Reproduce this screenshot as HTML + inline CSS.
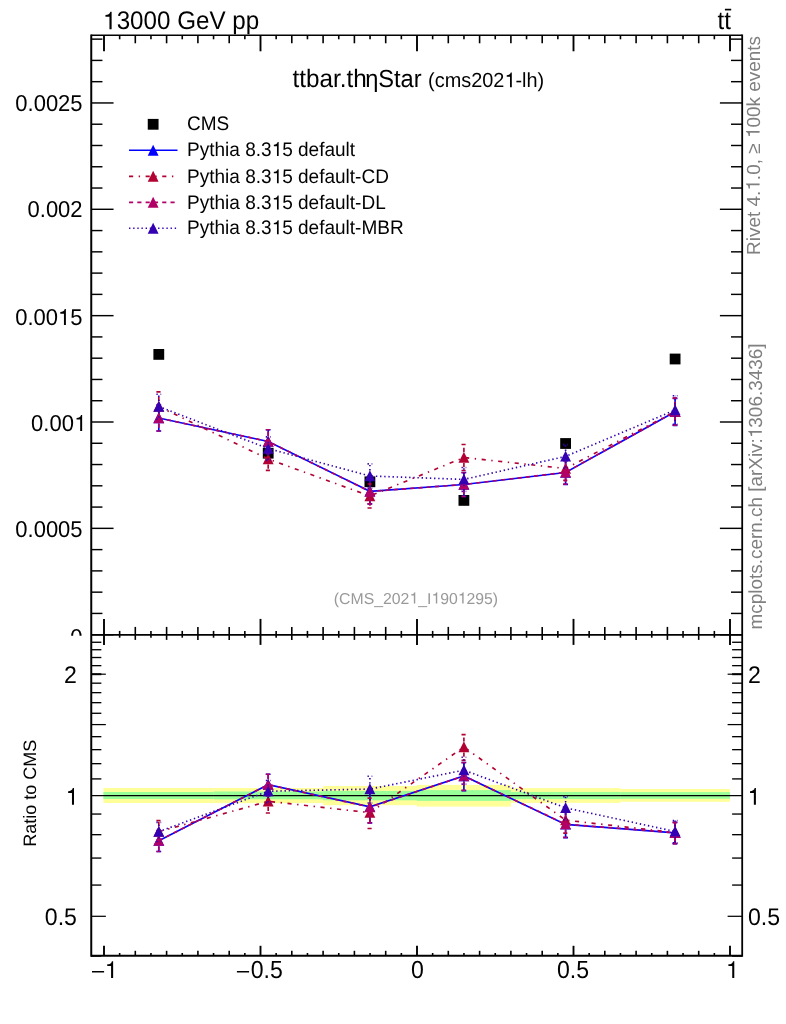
<!DOCTYPE html>
<html><head><meta charset="utf-8"><title>ttbar.thetaStar</title>
<style>html,body{margin:0;padding:0;background:#fff}svg{display:block}.h{fill:none}text{font-family:"Liberation Sans",sans-serif;fill:#000;text-rendering:geometricPrecision}</style></head><body>
<svg width="786" height="1024" viewBox="0 0 786 1024">
<rect width="786" height="1024" fill="#fff"/>
<g opacity="0.999">
<rect x="103.40" y="788.0" width="110.15" height="15.00" fill="#ffff99"/>
<rect x="213.55" y="788.0" width="109.55" height="15.10" fill="#ffff99"/>
<rect x="323.10" y="786.0" width="93.90" height="19.20" fill="#ffff99"/>
<rect x="417.00" y="784.9" width="93.90" height="21.70" fill="#ffff99"/>
<rect x="510.90" y="788.1" width="109.55" height="14.80" fill="#ffff99"/>
<rect x="620.45" y="789.0" width="109.55" height="12.80" fill="#ffff99"/>
<rect x="103.40" y="792.0" width="110.15" height="7.00" fill="#99ff99"/>
<rect x="213.55" y="791.5" width="109.55" height="7.80" fill="#99ff99"/>
<rect x="323.10" y="790.9" width="93.90" height="9.40" fill="#99ff99"/>
<rect x="417.00" y="790.1" width="93.90" height="10.80" fill="#99ff99"/>
<rect x="510.90" y="791.9" width="109.55" height="7.20" fill="#99ff99"/>
<rect x="620.45" y="792.1" width="109.55" height="6.70" fill="#99ff99"/>
<line x1="91.25" y1="795.6" x2="742.2" y2="795.6" stroke="#000" stroke-width="1.35"/>
<g stroke="#000" fill="none" stroke-linecap="butt">
<line x1="91.25" y1="34.5" x2="91.25" y2="956.8" stroke-width="2"/>
<line x1="742.2" y1="34.5" x2="742.2" y2="956.8" stroke-width="1.8"/>
<line x1="91.25" y1="35.3" x2="742.2" y2="35.3" stroke-width="1.6"/>
<line x1="91.25" y1="634.9" x2="742.2" y2="634.9" stroke-width="1.8"/>
<line x1="91.25" y1="955.8" x2="742.2" y2="955.8" stroke-width="2"/>
<line x1="104.00" y1="35.3" x2="104.00" y2="51.3" stroke-width="1.9"/>
<line x1="104.00" y1="618.9" x2="104.00" y2="644.9" stroke-width="1.9"/>
<line x1="104.00" y1="945.8" x2="104.00" y2="955.8" stroke-width="1.9"/>
<line x1="119.65" y1="35.3" x2="119.65" y2="39.3" stroke-width="1.6"/>
<line x1="119.65" y1="630.9" x2="119.65" y2="637.6999999999999" stroke-width="1.6"/>
<line x1="119.65" y1="953.0" x2="119.65" y2="955.8" stroke-width="1.6"/>
<line x1="135.30" y1="35.3" x2="135.30" y2="43.3" stroke-width="1.6"/>
<line x1="135.30" y1="626.9" x2="135.30" y2="639.9" stroke-width="1.6"/>
<line x1="135.30" y1="950.8" x2="135.30" y2="955.8" stroke-width="1.6"/>
<line x1="150.95" y1="35.3" x2="150.95" y2="39.3" stroke-width="1.6"/>
<line x1="150.95" y1="630.9" x2="150.95" y2="637.6999999999999" stroke-width="1.6"/>
<line x1="150.95" y1="953.0" x2="150.95" y2="955.8" stroke-width="1.6"/>
<line x1="166.60" y1="35.3" x2="166.60" y2="43.3" stroke-width="1.6"/>
<line x1="166.60" y1="626.9" x2="166.60" y2="639.9" stroke-width="1.6"/>
<line x1="166.60" y1="950.8" x2="166.60" y2="955.8" stroke-width="1.6"/>
<line x1="182.25" y1="35.3" x2="182.25" y2="39.3" stroke-width="1.6"/>
<line x1="182.25" y1="630.9" x2="182.25" y2="637.6999999999999" stroke-width="1.6"/>
<line x1="182.25" y1="953.0" x2="182.25" y2="955.8" stroke-width="1.6"/>
<line x1="197.90" y1="35.3" x2="197.90" y2="43.3" stroke-width="1.6"/>
<line x1="197.90" y1="626.9" x2="197.90" y2="639.9" stroke-width="1.6"/>
<line x1="197.90" y1="950.8" x2="197.90" y2="955.8" stroke-width="1.6"/>
<line x1="213.55" y1="35.3" x2="213.55" y2="39.3" stroke-width="1.6"/>
<line x1="213.55" y1="630.9" x2="213.55" y2="637.6999999999999" stroke-width="1.6"/>
<line x1="213.55" y1="953.0" x2="213.55" y2="955.8" stroke-width="1.6"/>
<line x1="229.20" y1="35.3" x2="229.20" y2="43.3" stroke-width="1.6"/>
<line x1="229.20" y1="626.9" x2="229.20" y2="639.9" stroke-width="1.6"/>
<line x1="229.20" y1="950.8" x2="229.20" y2="955.8" stroke-width="1.6"/>
<line x1="244.85" y1="35.3" x2="244.85" y2="39.3" stroke-width="1.6"/>
<line x1="244.85" y1="630.9" x2="244.85" y2="637.6999999999999" stroke-width="1.6"/>
<line x1="244.85" y1="953.0" x2="244.85" y2="955.8" stroke-width="1.6"/>
<line x1="260.50" y1="35.3" x2="260.50" y2="51.3" stroke-width="1.9"/>
<line x1="260.50" y1="618.9" x2="260.50" y2="644.9" stroke-width="1.9"/>
<line x1="260.50" y1="945.8" x2="260.50" y2="955.8" stroke-width="1.9"/>
<line x1="276.15" y1="35.3" x2="276.15" y2="39.3" stroke-width="1.6"/>
<line x1="276.15" y1="630.9" x2="276.15" y2="637.6999999999999" stroke-width="1.6"/>
<line x1="276.15" y1="953.0" x2="276.15" y2="955.8" stroke-width="1.6"/>
<line x1="291.80" y1="35.3" x2="291.80" y2="43.3" stroke-width="1.6"/>
<line x1="291.80" y1="626.9" x2="291.80" y2="639.9" stroke-width="1.6"/>
<line x1="291.80" y1="950.8" x2="291.80" y2="955.8" stroke-width="1.6"/>
<line x1="307.45" y1="35.3" x2="307.45" y2="39.3" stroke-width="1.6"/>
<line x1="307.45" y1="630.9" x2="307.45" y2="637.6999999999999" stroke-width="1.6"/>
<line x1="307.45" y1="953.0" x2="307.45" y2="955.8" stroke-width="1.6"/>
<line x1="323.10" y1="35.3" x2="323.10" y2="43.3" stroke-width="1.6"/>
<line x1="323.10" y1="626.9" x2="323.10" y2="639.9" stroke-width="1.6"/>
<line x1="323.10" y1="950.8" x2="323.10" y2="955.8" stroke-width="1.6"/>
<line x1="338.75" y1="35.3" x2="338.75" y2="39.3" stroke-width="1.6"/>
<line x1="338.75" y1="630.9" x2="338.75" y2="637.6999999999999" stroke-width="1.6"/>
<line x1="338.75" y1="953.0" x2="338.75" y2="955.8" stroke-width="1.6"/>
<line x1="354.40" y1="35.3" x2="354.40" y2="43.3" stroke-width="1.6"/>
<line x1="354.40" y1="626.9" x2="354.40" y2="639.9" stroke-width="1.6"/>
<line x1="354.40" y1="950.8" x2="354.40" y2="955.8" stroke-width="1.6"/>
<line x1="370.05" y1="35.3" x2="370.05" y2="39.3" stroke-width="1.6"/>
<line x1="370.05" y1="630.9" x2="370.05" y2="637.6999999999999" stroke-width="1.6"/>
<line x1="370.05" y1="953.0" x2="370.05" y2="955.8" stroke-width="1.6"/>
<line x1="385.70" y1="35.3" x2="385.70" y2="43.3" stroke-width="1.6"/>
<line x1="385.70" y1="626.9" x2="385.70" y2="639.9" stroke-width="1.6"/>
<line x1="385.70" y1="950.8" x2="385.70" y2="955.8" stroke-width="1.6"/>
<line x1="401.35" y1="35.3" x2="401.35" y2="39.3" stroke-width="1.6"/>
<line x1="401.35" y1="630.9" x2="401.35" y2="637.6999999999999" stroke-width="1.6"/>
<line x1="401.35" y1="953.0" x2="401.35" y2="955.8" stroke-width="1.6"/>
<line x1="417.00" y1="35.3" x2="417.00" y2="51.3" stroke-width="1.9"/>
<line x1="417.00" y1="618.9" x2="417.00" y2="644.9" stroke-width="1.9"/>
<line x1="417.00" y1="945.8" x2="417.00" y2="955.8" stroke-width="1.9"/>
<line x1="432.65" y1="35.3" x2="432.65" y2="39.3" stroke-width="1.6"/>
<line x1="432.65" y1="630.9" x2="432.65" y2="637.6999999999999" stroke-width="1.6"/>
<line x1="432.65" y1="953.0" x2="432.65" y2="955.8" stroke-width="1.6"/>
<line x1="448.30" y1="35.3" x2="448.30" y2="43.3" stroke-width="1.6"/>
<line x1="448.30" y1="626.9" x2="448.30" y2="639.9" stroke-width="1.6"/>
<line x1="448.30" y1="950.8" x2="448.30" y2="955.8" stroke-width="1.6"/>
<line x1="463.95" y1="35.3" x2="463.95" y2="39.3" stroke-width="1.6"/>
<line x1="463.95" y1="630.9" x2="463.95" y2="637.6999999999999" stroke-width="1.6"/>
<line x1="463.95" y1="953.0" x2="463.95" y2="955.8" stroke-width="1.6"/>
<line x1="479.60" y1="35.3" x2="479.60" y2="43.3" stroke-width="1.6"/>
<line x1="479.60" y1="626.9" x2="479.60" y2="639.9" stroke-width="1.6"/>
<line x1="479.60" y1="950.8" x2="479.60" y2="955.8" stroke-width="1.6"/>
<line x1="495.25" y1="35.3" x2="495.25" y2="39.3" stroke-width="1.6"/>
<line x1="495.25" y1="630.9" x2="495.25" y2="637.6999999999999" stroke-width="1.6"/>
<line x1="495.25" y1="953.0" x2="495.25" y2="955.8" stroke-width="1.6"/>
<line x1="510.90" y1="35.3" x2="510.90" y2="43.3" stroke-width="1.6"/>
<line x1="510.90" y1="626.9" x2="510.90" y2="639.9" stroke-width="1.6"/>
<line x1="510.90" y1="950.8" x2="510.90" y2="955.8" stroke-width="1.6"/>
<line x1="526.55" y1="35.3" x2="526.55" y2="39.3" stroke-width="1.6"/>
<line x1="526.55" y1="630.9" x2="526.55" y2="637.6999999999999" stroke-width="1.6"/>
<line x1="526.55" y1="953.0" x2="526.55" y2="955.8" stroke-width="1.6"/>
<line x1="542.20" y1="35.3" x2="542.20" y2="43.3" stroke-width="1.6"/>
<line x1="542.20" y1="626.9" x2="542.20" y2="639.9" stroke-width="1.6"/>
<line x1="542.20" y1="950.8" x2="542.20" y2="955.8" stroke-width="1.6"/>
<line x1="557.85" y1="35.3" x2="557.85" y2="39.3" stroke-width="1.6"/>
<line x1="557.85" y1="630.9" x2="557.85" y2="637.6999999999999" stroke-width="1.6"/>
<line x1="557.85" y1="953.0" x2="557.85" y2="955.8" stroke-width="1.6"/>
<line x1="573.50" y1="35.3" x2="573.50" y2="51.3" stroke-width="1.9"/>
<line x1="573.50" y1="618.9" x2="573.50" y2="644.9" stroke-width="1.9"/>
<line x1="573.50" y1="945.8" x2="573.50" y2="955.8" stroke-width="1.9"/>
<line x1="589.15" y1="35.3" x2="589.15" y2="39.3" stroke-width="1.6"/>
<line x1="589.15" y1="630.9" x2="589.15" y2="637.6999999999999" stroke-width="1.6"/>
<line x1="589.15" y1="953.0" x2="589.15" y2="955.8" stroke-width="1.6"/>
<line x1="604.80" y1="35.3" x2="604.80" y2="43.3" stroke-width="1.6"/>
<line x1="604.80" y1="626.9" x2="604.80" y2="639.9" stroke-width="1.6"/>
<line x1="604.80" y1="950.8" x2="604.80" y2="955.8" stroke-width="1.6"/>
<line x1="620.45" y1="35.3" x2="620.45" y2="39.3" stroke-width="1.6"/>
<line x1="620.45" y1="630.9" x2="620.45" y2="637.6999999999999" stroke-width="1.6"/>
<line x1="620.45" y1="953.0" x2="620.45" y2="955.8" stroke-width="1.6"/>
<line x1="636.10" y1="35.3" x2="636.10" y2="43.3" stroke-width="1.6"/>
<line x1="636.10" y1="626.9" x2="636.10" y2="639.9" stroke-width="1.6"/>
<line x1="636.10" y1="950.8" x2="636.10" y2="955.8" stroke-width="1.6"/>
<line x1="651.75" y1="35.3" x2="651.75" y2="39.3" stroke-width="1.6"/>
<line x1="651.75" y1="630.9" x2="651.75" y2="637.6999999999999" stroke-width="1.6"/>
<line x1="651.75" y1="953.0" x2="651.75" y2="955.8" stroke-width="1.6"/>
<line x1="667.40" y1="35.3" x2="667.40" y2="43.3" stroke-width="1.6"/>
<line x1="667.40" y1="626.9" x2="667.40" y2="639.9" stroke-width="1.6"/>
<line x1="667.40" y1="950.8" x2="667.40" y2="955.8" stroke-width="1.6"/>
<line x1="683.05" y1="35.3" x2="683.05" y2="39.3" stroke-width="1.6"/>
<line x1="683.05" y1="630.9" x2="683.05" y2="637.6999999999999" stroke-width="1.6"/>
<line x1="683.05" y1="953.0" x2="683.05" y2="955.8" stroke-width="1.6"/>
<line x1="698.70" y1="35.3" x2="698.70" y2="43.3" stroke-width="1.6"/>
<line x1="698.70" y1="626.9" x2="698.70" y2="639.9" stroke-width="1.6"/>
<line x1="698.70" y1="950.8" x2="698.70" y2="955.8" stroke-width="1.6"/>
<line x1="714.35" y1="35.3" x2="714.35" y2="39.3" stroke-width="1.6"/>
<line x1="714.35" y1="630.9" x2="714.35" y2="637.6999999999999" stroke-width="1.6"/>
<line x1="714.35" y1="953.0" x2="714.35" y2="955.8" stroke-width="1.6"/>
<line x1="730.00" y1="35.3" x2="730.00" y2="51.3" stroke-width="1.9"/>
<line x1="730.00" y1="618.9" x2="730.00" y2="644.9" stroke-width="1.9"/>
<line x1="730.00" y1="945.8" x2="730.00" y2="955.8" stroke-width="1.9"/>
<line x1="91.25" y1="634.70" x2="113.55" y2="634.70" stroke-width="1.45"/>
<line x1="742.2" y1="634.70" x2="719.9000000000001" y2="634.70" stroke-width="1.45"/>
<line x1="91.25" y1="613.43" x2="102.45" y2="613.43" stroke-width="1.45"/>
<line x1="742.2" y1="613.43" x2="731.0" y2="613.43" stroke-width="1.45"/>
<line x1="91.25" y1="592.16" x2="102.45" y2="592.16" stroke-width="1.45"/>
<line x1="742.2" y1="592.16" x2="731.0" y2="592.16" stroke-width="1.45"/>
<line x1="91.25" y1="570.89" x2="102.45" y2="570.89" stroke-width="1.45"/>
<line x1="742.2" y1="570.89" x2="731.0" y2="570.89" stroke-width="1.45"/>
<line x1="91.25" y1="549.62" x2="102.45" y2="549.62" stroke-width="1.45"/>
<line x1="742.2" y1="549.62" x2="731.0" y2="549.62" stroke-width="1.45"/>
<line x1="91.25" y1="528.35" x2="113.55" y2="528.35" stroke-width="1.45"/>
<line x1="742.2" y1="528.35" x2="719.9000000000001" y2="528.35" stroke-width="1.45"/>
<line x1="91.25" y1="507.08" x2="102.45" y2="507.08" stroke-width="1.45"/>
<line x1="742.2" y1="507.08" x2="731.0" y2="507.08" stroke-width="1.45"/>
<line x1="91.25" y1="485.81" x2="102.45" y2="485.81" stroke-width="1.45"/>
<line x1="742.2" y1="485.81" x2="731.0" y2="485.81" stroke-width="1.45"/>
<line x1="91.25" y1="464.54" x2="102.45" y2="464.54" stroke-width="1.45"/>
<line x1="742.2" y1="464.54" x2="731.0" y2="464.54" stroke-width="1.45"/>
<line x1="91.25" y1="443.27" x2="102.45" y2="443.27" stroke-width="1.45"/>
<line x1="742.2" y1="443.27" x2="731.0" y2="443.27" stroke-width="1.45"/>
<line x1="91.25" y1="422.00" x2="113.55" y2="422.00" stroke-width="1.45"/>
<line x1="742.2" y1="422.00" x2="719.9000000000001" y2="422.00" stroke-width="1.45"/>
<line x1="91.25" y1="400.73" x2="102.45" y2="400.73" stroke-width="1.45"/>
<line x1="742.2" y1="400.73" x2="731.0" y2="400.73" stroke-width="1.45"/>
<line x1="91.25" y1="379.46" x2="102.45" y2="379.46" stroke-width="1.45"/>
<line x1="742.2" y1="379.46" x2="731.0" y2="379.46" stroke-width="1.45"/>
<line x1="91.25" y1="358.19" x2="102.45" y2="358.19" stroke-width="1.45"/>
<line x1="742.2" y1="358.19" x2="731.0" y2="358.19" stroke-width="1.45"/>
<line x1="91.25" y1="336.92" x2="102.45" y2="336.92" stroke-width="1.45"/>
<line x1="742.2" y1="336.92" x2="731.0" y2="336.92" stroke-width="1.45"/>
<line x1="91.25" y1="315.65" x2="113.55" y2="315.65" stroke-width="1.45"/>
<line x1="742.2" y1="315.65" x2="719.9000000000001" y2="315.65" stroke-width="1.45"/>
<line x1="91.25" y1="294.38" x2="102.45" y2="294.38" stroke-width="1.45"/>
<line x1="742.2" y1="294.38" x2="731.0" y2="294.38" stroke-width="1.45"/>
<line x1="91.25" y1="273.11" x2="102.45" y2="273.11" stroke-width="1.45"/>
<line x1="742.2" y1="273.11" x2="731.0" y2="273.11" stroke-width="1.45"/>
<line x1="91.25" y1="251.84" x2="102.45" y2="251.84" stroke-width="1.45"/>
<line x1="742.2" y1="251.84" x2="731.0" y2="251.84" stroke-width="1.45"/>
<line x1="91.25" y1="230.57" x2="102.45" y2="230.57" stroke-width="1.45"/>
<line x1="742.2" y1="230.57" x2="731.0" y2="230.57" stroke-width="1.45"/>
<line x1="91.25" y1="209.30" x2="113.55" y2="209.30" stroke-width="1.45"/>
<line x1="742.2" y1="209.30" x2="719.9000000000001" y2="209.30" stroke-width="1.45"/>
<line x1="91.25" y1="188.03" x2="102.45" y2="188.03" stroke-width="1.45"/>
<line x1="742.2" y1="188.03" x2="731.0" y2="188.03" stroke-width="1.45"/>
<line x1="91.25" y1="166.76" x2="102.45" y2="166.76" stroke-width="1.45"/>
<line x1="742.2" y1="166.76" x2="731.0" y2="166.76" stroke-width="1.45"/>
<line x1="91.25" y1="145.49" x2="102.45" y2="145.49" stroke-width="1.45"/>
<line x1="742.2" y1="145.49" x2="731.0" y2="145.49" stroke-width="1.45"/>
<line x1="91.25" y1="124.22" x2="102.45" y2="124.22" stroke-width="1.45"/>
<line x1="742.2" y1="124.22" x2="731.0" y2="124.22" stroke-width="1.45"/>
<line x1="91.25" y1="102.95" x2="113.55" y2="102.95" stroke-width="1.45"/>
<line x1="742.2" y1="102.95" x2="719.9000000000001" y2="102.95" stroke-width="1.45"/>
<line x1="91.25" y1="81.68" x2="102.45" y2="81.68" stroke-width="1.45"/>
<line x1="742.2" y1="81.68" x2="731.0" y2="81.68" stroke-width="1.45"/>
<line x1="91.25" y1="60.41" x2="102.45" y2="60.41" stroke-width="1.45"/>
<line x1="742.2" y1="60.41" x2="731.0" y2="60.41" stroke-width="1.45"/>
<line x1="91.25" y1="39.14" x2="102.45" y2="39.14" stroke-width="1.45"/>
<line x1="742.2" y1="39.14" x2="731.0" y2="39.14" stroke-width="1.45"/>
<line x1="91.25" y1="956.08" x2="101.35" y2="956.08" stroke-width="1.35"/>
<line x1="742.2" y1="956.08" x2="732.1" y2="956.08" stroke-width="1.35"/>
<line x1="91.25" y1="916.30" x2="105.85" y2="916.30" stroke-width="1.25"/>
<line x1="742.2" y1="916.30" x2="727.6" y2="916.30" stroke-width="1.25"/>
<line x1="91.25" y1="885.07" x2="101.35" y2="885.07" stroke-width="1.35"/>
<line x1="742.2" y1="885.07" x2="732.1" y2="885.07" stroke-width="1.35"/>
<line x1="91.25" y1="858.07" x2="101.35" y2="858.07" stroke-width="1.35"/>
<line x1="742.2" y1="858.07" x2="732.1" y2="858.07" stroke-width="1.35"/>
<line x1="91.25" y1="834.68" x2="101.35" y2="834.68" stroke-width="1.35"/>
<line x1="742.2" y1="834.68" x2="732.1" y2="834.68" stroke-width="1.35"/>
<line x1="91.25" y1="814.05" x2="101.35" y2="814.05" stroke-width="1.35"/>
<line x1="742.2" y1="814.05" x2="732.1" y2="814.05" stroke-width="1.35"/>
<line x1="91.25" y1="778.91" x2="101.35" y2="778.91" stroke-width="1.35"/>
<line x1="742.2" y1="778.91" x2="732.1" y2="778.91" stroke-width="1.35"/>
<line x1="91.25" y1="763.67" x2="101.35" y2="763.67" stroke-width="1.35"/>
<line x1="742.2" y1="763.67" x2="732.1" y2="763.67" stroke-width="1.35"/>
<line x1="91.25" y1="749.65" x2="101.35" y2="749.65" stroke-width="1.35"/>
<line x1="742.2" y1="749.65" x2="732.1" y2="749.65" stroke-width="1.35"/>
<line x1="91.25" y1="736.67" x2="101.35" y2="736.67" stroke-width="1.35"/>
<line x1="742.2" y1="736.67" x2="732.1" y2="736.67" stroke-width="1.35"/>
<line x1="91.25" y1="724.59" x2="105.85" y2="724.59" stroke-width="1.25"/>
<line x1="742.2" y1="724.59" x2="727.6" y2="724.59" stroke-width="1.25"/>
<line x1="91.25" y1="713.28" x2="101.35" y2="713.28" stroke-width="1.35"/>
<line x1="742.2" y1="713.28" x2="732.1" y2="713.28" stroke-width="1.35"/>
<line x1="91.25" y1="702.66" x2="101.35" y2="702.66" stroke-width="1.35"/>
<line x1="742.2" y1="702.66" x2="732.1" y2="702.66" stroke-width="1.35"/>
<line x1="91.25" y1="692.65" x2="101.35" y2="692.65" stroke-width="1.35"/>
<line x1="742.2" y1="692.65" x2="732.1" y2="692.65" stroke-width="1.35"/>
<line x1="91.25" y1="683.18" x2="101.35" y2="683.18" stroke-width="1.35"/>
<line x1="742.2" y1="683.18" x2="732.1" y2="683.18" stroke-width="1.35"/>
<line x1="91.25" y1="674.20" x2="101.35" y2="674.20" stroke-width="2"/>
<line x1="91.25" y1="674.20" x2="105.85" y2="674.20" stroke-width="1.2"/>
<line x1="742.2" y1="674.20" x2="732.1" y2="674.20" stroke-width="2"/>
<line x1="742.2" y1="674.20" x2="727.6" y2="674.20" stroke-width="1.2"/>
<line x1="91.25" y1="665.65" x2="101.35" y2="665.65" stroke-width="1.35"/>
<line x1="742.2" y1="665.65" x2="732.1" y2="665.65" stroke-width="1.35"/>
<line x1="91.25" y1="657.51" x2="101.35" y2="657.51" stroke-width="1.35"/>
<line x1="742.2" y1="657.51" x2="732.1" y2="657.51" stroke-width="1.35"/>
<line x1="91.25" y1="649.72" x2="101.35" y2="649.72" stroke-width="1.35"/>
<line x1="742.2" y1="649.72" x2="732.1" y2="649.72" stroke-width="1.35"/>
<line x1="91.25" y1="642.27" x2="101.35" y2="642.27" stroke-width="1.35"/>
<line x1="742.2" y1="642.27" x2="732.1" y2="642.27" stroke-width="1.35"/>
</g>
<rect x="153.40" y="349.00" width="10.8" height="10.8" fill="#000"/>
<rect x="262.80" y="447.80" width="10.8" height="10.8" fill="#000"/>
<rect x="364.50" y="476.40" width="10.8" height="10.8" fill="#000"/>
<rect x="458.50" y="495.00" width="10.8" height="10.8" fill="#000"/>
<rect x="560.20" y="438.10" width="10.8" height="10.8" fill="#000"/>
<rect x="669.70" y="353.60" width="10.8" height="10.8" fill="#000"/>
<g stroke="#0000ff" stroke-width="1.65" fill="none">
<path d="M158.80 418.00 L268.20 441.50 L369.90 491.30 L463.90 484.50 L565.60 472.50 L675.10 411.80"/>
<path d="M158.80 412.50V405.00M158.80 423.50V431.00M156.40 405.00H161.20M156.40 431.00H161.20"/>
<path d="M268.20 436.00V429.70M268.20 447.00V453.30M265.80 429.70H270.60M265.80 453.30H270.60"/>
<path d="M369.90 485.80V478.70M369.90 496.80V503.90M367.50 478.70H372.30M367.50 503.90H372.30"/>
<path d="M463.90 479.00V472.50M463.90 490.00V496.50M461.50 472.50H466.30M461.50 496.50H466.30"/>
<path d="M565.60 467.00V460.70M565.60 478.00V484.30M563.20 460.70H568.00M563.20 484.30H568.00"/>
<path d="M675.10 406.30V398.30M675.10 417.30V425.30M672.70 398.30H677.50M672.70 425.30H677.50"/>
</g>
<path d="M153.35 423.15L164.25 423.15L158.80 412.25Z" fill="#0000ff"/>
<path d="M262.75 446.65L273.65 446.65L268.20 435.75Z" fill="#0000ff"/>
<path d="M364.45 496.45L375.35 496.45L369.90 485.55Z" fill="#0000ff"/>
<path d="M458.45 489.65L469.35 489.65L463.90 478.75Z" fill="#0000ff"/>
<path d="M560.15 477.65L571.05 477.65L565.60 466.75Z" fill="#0000ff"/>
<path d="M669.65 416.95L680.55 416.95L675.10 406.05Z" fill="#0000ff"/>
<g stroke="#b20033" stroke-width="1.65" fill="none" stroke-dasharray="4.15 5.54 1.385 5.54">
<path d="M158.80 406.60 L268.20 459.00 L369.90 496.00 L463.90 457.50 L565.60 468.50 L675.10 411.50"/>
<path d="M158.80 401.10V391.80M158.80 412.10V421.40M156.40 391.80H161.20M156.40 421.40H161.20"/>
<path d="M268.20 453.50V447.60M268.20 464.50V470.40M265.80 447.60H270.60M265.80 470.40H270.60"/>
<path d="M369.90 490.50V484.00M369.90 501.50V508.00M367.50 484.00H372.30M367.50 508.00H372.30"/>
<path d="M463.90 452.00V444.50M463.90 463.00V470.50M461.50 444.50H466.30M461.50 470.50H466.30"/>
<path d="M565.60 463.00V456.60M565.60 474.00V480.40M563.20 456.60H568.00M563.20 480.40H568.00"/>
<path d="M675.10 406.00V398.00M675.10 417.00V425.00M672.70 398.00H677.50M672.70 425.00H677.50"/>
</g>
<path d="M153.35 411.75L164.25 411.75L158.80 400.85Z" fill="#b20033"/>
<path d="M262.75 464.15L273.65 464.15L268.20 453.25Z" fill="#b20033"/>
<path d="M364.45 501.15L375.35 501.15L369.90 490.25Z" fill="#b20033"/>
<path d="M458.45 462.65L469.35 462.65L463.90 451.75Z" fill="#b20033"/>
<path d="M560.15 473.65L571.05 473.65L565.60 462.75Z" fill="#b20033"/>
<path d="M669.65 416.65L680.55 416.65L675.10 405.75Z" fill="#b20033"/>
<g stroke="#b20066" stroke-width="1.65" fill="none" stroke-dasharray="4.15 4.15">
<path d="M158.80 418.00 L268.20 441.50 L369.90 491.50 L463.90 484.50 L565.60 472.30 L675.10 411.70"/>
<path d="M158.80 412.50V405.00M158.80 423.50V431.00M156.40 405.00H161.20M156.40 431.00H161.20"/>
<path d="M268.20 436.00V429.70M268.20 447.00V453.30M265.80 429.70H270.60M265.80 453.30H270.60"/>
<path d="M369.90 486.00V479.10M369.90 497.00V503.90M367.50 479.10H372.30M367.50 503.90H372.30"/>
<path d="M463.90 479.00V472.70M463.90 490.00V496.30M461.50 472.70H466.30M461.50 496.30H466.30"/>
<path d="M565.60 466.80V460.50M565.60 477.80V484.10M563.20 460.50H568.00M563.20 484.10H568.00"/>
<path d="M675.10 406.20V398.20M675.10 417.20V425.20M672.70 398.20H677.50M672.70 425.20H677.50"/>
</g>
<path d="M153.35 423.15L164.25 423.15L158.80 412.25Z" fill="#b20066"/>
<path d="M262.75 446.65L273.65 446.65L268.20 435.75Z" fill="#b20066"/>
<path d="M364.45 496.65L375.35 496.65L369.90 485.75Z" fill="#b20066"/>
<path d="M458.45 489.65L469.35 489.65L463.90 478.75Z" fill="#b20066"/>
<path d="M560.15 477.45L571.05 477.45L565.60 466.55Z" fill="#b20066"/>
<path d="M669.65 416.85L680.55 416.85L675.10 405.95Z" fill="#b20066"/>
<g stroke="#3300b2" stroke-width="1.65" fill="none" stroke-dasharray="1.385 2.77">
<path d="M158.80 406.60 L268.20 448.60 L369.90 476.00 L463.90 479.40 L565.60 456.40 L675.10 410.00"/>
<path d="M158.80 401.10V394.20M158.80 412.10V419.00M156.40 394.20H161.20M156.40 419.00H161.20"/>
<path d="M268.20 443.10V436.80M268.20 454.10V460.40M265.80 436.80H270.60M265.80 460.40H270.60"/>
<path d="M369.90 470.50V463.90M369.90 481.50V488.10M367.50 463.90H372.30M367.50 488.10H372.30"/>
<path d="M463.90 473.90V467.50M463.90 484.90V491.30M461.50 467.50H466.30M461.50 491.30H466.30"/>
<path d="M565.60 450.90V444.60M565.60 461.90V468.20M563.20 444.60H568.00M563.20 468.20H568.00"/>
<path d="M675.10 404.50V395.70M675.10 415.50V424.30M672.70 395.70H677.50M672.70 424.30H677.50"/>
</g>
<path d="M153.35 411.75L164.25 411.75L158.80 400.85Z" fill="#3300b2"/>
<path d="M262.75 453.75L273.65 453.75L268.20 442.85Z" fill="#3300b2"/>
<path d="M364.45 481.15L375.35 481.15L369.90 470.25Z" fill="#3300b2"/>
<path d="M458.45 484.55L469.35 484.55L463.90 473.65Z" fill="#3300b2"/>
<path d="M560.15 461.55L571.05 461.55L565.60 450.65Z" fill="#3300b2"/>
<path d="M669.65 415.15L680.55 415.15L675.10 404.25Z" fill="#3300b2"/>
<g stroke="#0000ff" stroke-width="1.65" fill="none">
<path d="M158.80 840.67 L268.20 784.66 L369.90 806.83 L463.90 776.00 L565.60 824.41 L675.10 832.83"/>
<path d="M158.80 835.17V830.47M158.80 846.17V851.51M156.40 830.47H161.20M156.40 851.51H161.20"/>
<path d="M268.20 779.16V774.28M268.20 790.16V795.70M265.80 774.28H270.60M265.80 795.70H270.60"/>
<path d="M369.90 801.33V792.08M369.90 812.33V822.94M367.50 792.08H372.30M367.50 822.94H372.30"/>
<path d="M463.90 770.50V762.54M463.90 781.50V790.59M461.50 762.54H466.30M461.50 790.59H466.30"/>
<path d="M565.60 818.91V812.11M565.60 829.91V837.64M563.20 812.11H568.00M563.20 837.64H568.00"/>
<path d="M675.10 827.33V822.53M675.10 838.33V843.78M672.70 822.53H677.50M672.70 843.78H677.50"/>
</g>
<path d="M153.35 845.82L164.25 845.82L158.80 834.92Z" fill="#0000ff"/>
<path d="M262.75 789.81L273.65 789.81L268.20 778.91Z" fill="#0000ff"/>
<path d="M364.45 811.98L375.35 811.98L369.90 801.08Z" fill="#0000ff"/>
<path d="M458.45 781.15L469.35 781.15L463.90 770.25Z" fill="#0000ff"/>
<path d="M560.15 829.56L571.05 829.56L565.60 818.66Z" fill="#0000ff"/>
<path d="M669.65 837.98L680.55 837.98L675.10 827.08Z" fill="#0000ff"/>
<g stroke="#b20033" stroke-width="1.65" fill="none" stroke-dasharray="4.15 5.54 1.385 5.54">
<path d="M158.80 831.69 L268.20 801.29 L369.90 812.67 L463.90 747.05 L565.60 820.14 L675.10 832.60"/>
<path d="M158.80 826.19V820.68M158.80 837.19V843.44M156.40 820.68H161.20M156.40 843.44H161.20"/>
<path d="M268.20 795.79V790.28M268.20 806.79V813.04M265.80 790.28H270.60M265.80 813.04H270.60"/>
<path d="M369.90 807.17V798.14M369.90 818.17V828.52M367.50 798.14H372.30M367.50 828.52H372.30"/>
<path d="M463.90 741.55V734.65M463.90 752.55V760.39M461.50 734.65H466.30M461.50 760.39H466.30"/>
<path d="M565.60 814.64V808.03M565.60 825.64V833.15M563.20 808.03H568.00M563.20 833.15H568.00"/>
<path d="M675.10 827.10V822.31M675.10 838.10V843.53M672.70 822.31H677.50M672.70 843.53H677.50"/>
</g>
<path d="M153.35 836.84L164.25 836.84L158.80 825.94Z" fill="#b20033"/>
<path d="M262.75 806.44L273.65 806.44L268.20 795.54Z" fill="#b20033"/>
<path d="M364.45 817.82L375.35 817.82L369.90 806.92Z" fill="#b20033"/>
<path d="M458.45 752.20L469.35 752.20L463.90 741.30Z" fill="#b20033"/>
<path d="M560.15 825.29L571.05 825.29L565.60 814.39Z" fill="#b20033"/>
<path d="M669.65 837.75L680.55 837.75L675.10 826.85Z" fill="#b20033"/>
<g stroke="#b20066" stroke-width="1.65" fill="none" stroke-dasharray="4.15 4.15">
<path d="M158.80 840.67 L268.20 784.66 L369.90 807.08 L463.90 776.00 L565.60 824.19 L675.10 832.76"/>
<path d="M158.80 835.17V830.47M158.80 846.17V851.51M156.40 830.47H161.20M156.40 851.51H161.20"/>
<path d="M268.20 779.16V774.28M268.20 790.16V795.70M265.80 774.28H270.60M265.80 795.70H270.60"/>
<path d="M369.90 801.58V792.53M369.90 812.58V822.94M367.50 792.53H372.30M367.50 822.94H372.30"/>
<path d="M463.90 770.50V762.76M463.90 781.50V790.33M461.50 762.76H466.30M461.50 790.33H466.30"/>
<path d="M565.60 818.69V811.91M565.60 829.69V837.41M563.20 811.91H568.00M563.20 837.41H568.00"/>
<path d="M675.10 827.26V822.46M675.10 838.26V843.69M672.70 822.46H677.50M672.70 843.69H677.50"/>
</g>
<path d="M153.35 845.82L164.25 845.82L158.80 834.92Z" fill="#b20066"/>
<path d="M262.75 789.81L273.65 789.81L268.20 778.91Z" fill="#b20066"/>
<path d="M364.45 812.23L375.35 812.23L369.90 801.33Z" fill="#b20066"/>
<path d="M458.45 781.15L469.35 781.15L463.90 770.25Z" fill="#b20066"/>
<path d="M560.15 829.34L571.05 829.34L565.60 818.44Z" fill="#b20066"/>
<path d="M669.65 837.91L680.55 837.91L675.10 827.01Z" fill="#b20066"/>
<g stroke="#3300b2" stroke-width="1.65" fill="none" stroke-dasharray="1.385 2.77">
<path d="M158.80 831.69 L268.20 791.22 L369.90 789.08 L463.90 770.15 L565.60 807.83 L675.10 831.43"/>
<path d="M158.80 826.19V822.42M158.80 837.19V841.48M156.40 822.42H161.20M156.40 841.48H161.20"/>
<path d="M268.20 785.72V780.45M268.20 796.72V802.69M265.80 780.45H270.60M265.80 802.69H270.60"/>
<path d="M369.90 783.58V776.21M369.90 794.58V802.97M367.50 776.21H372.30M367.50 802.97H372.30"/>
<path d="M463.90 764.65V757.22M463.90 775.65V784.12M461.50 757.22H466.30M461.50 784.12H466.30"/>
<path d="M565.60 802.33V796.61M565.60 813.33V819.83M563.20 796.61H568.00M563.20 819.83H568.00"/>
<path d="M675.10 825.93V820.62M675.10 836.93V842.94M672.70 820.62H677.50M672.70 842.94H677.50"/>
</g>
<path d="M153.35 836.84L164.25 836.84L158.80 825.94Z" fill="#3300b2"/>
<path d="M262.75 796.37L273.65 796.37L268.20 785.47Z" fill="#3300b2"/>
<path d="M364.45 794.23L375.35 794.23L369.90 783.33Z" fill="#3300b2"/>
<path d="M458.45 775.30L469.35 775.30L463.90 764.40Z" fill="#3300b2"/>
<path d="M560.15 812.98L571.05 812.98L565.60 802.08Z" fill="#3300b2"/>
<path d="M669.65 836.58L680.55 836.58L675.10 825.68Z" fill="#3300b2"/>
<rect x="147.75" y="118.90" width="10.8" height="10.8" fill="#000"/>
<line x1="129.0" y1="150.2" x2="177.5" y2="150.2" stroke="#0000ff" stroke-width="1.65"/>
<path d="M147.70 155.65L158.60 155.65L153.15 144.75Z" fill="#0000ff"/>
<line x1="129.0" y1="176.3" x2="177.5" y2="176.3" stroke="#b20033" stroke-width="1.65" stroke-dasharray="4.15 5.54 1.385 5.54"/>
<path d="M147.70 181.75L158.60 181.75L153.15 170.85Z" fill="#b20033"/>
<line x1="129.0" y1="202.3" x2="177.5" y2="202.3" stroke="#b20066" stroke-width="1.65" stroke-dasharray="4.15 4.15"/>
<path d="M147.70 207.75L158.60 207.75L153.15 196.85Z" fill="#b20066"/>
<line x1="129.0" y1="228.2" x2="177.5" y2="228.2" stroke="#3300b2" stroke-width="1.65" stroke-dasharray="1.385 2.77"/>
<path d="M147.70 233.65L158.60 233.65L153.15 222.75Z" fill="#3300b2"/>
<g transform="translate(187.00,130.10) scale(1,1.035)"><text font-size="19.02">CMS</text></g>
<g transform="translate(187.00,156.10) scale(1,1.035)"><text font-size="19.02">Pythia 8.3<tspan class="h">1</tspan>5 default</text><path d="M91.66 0.00L89.97 0.00L89.97 -9.63L86.82 -9.63L86.82 -11.01C88.86 -11.10 90.14 -11.62 90.70 -13.51L91.66 -13.51Z" fill="#000"/></g>
<g transform="translate(187.00,183.20) scale(1,1.035)"><text font-size="19.02">Pythia 8.3<tspan class="h">1</tspan>5 default-CD</text><path d="M91.66 0.00L89.97 0.00L89.97 -9.63L86.82 -9.63L86.82 -11.01C88.86 -11.10 90.14 -11.62 90.70 -13.51L91.66 -13.51Z" fill="#000"/></g>
<g transform="translate(187.00,209.40) scale(1,1.035)"><text font-size="19.02">Pythia 8.3<tspan class="h">1</tspan>5 default-DL</text><path d="M91.66 0.00L89.97 0.00L89.97 -9.63L86.82 -9.63L86.82 -11.01C88.86 -11.10 90.14 -11.62 90.70 -13.51L91.66 -13.51Z" fill="#000"/></g>
<g transform="translate(187.00,234.30) scale(1,1.035)"><text font-size="19.02">Pythia 8.3<tspan class="h">1</tspan>5 default-MBR</text><path d="M91.66 0.00L89.97 0.00L89.97 -9.63L86.82 -9.63L86.82 -11.01C88.86 -11.10 90.14 -11.62 90.70 -13.51L91.66 -13.51Z" fill="#000"/></g>
<g transform="translate(103.20,29.20) scale(1,1.055)"><text font-size="24.2"><tspan class="h">1</tspan>3000 GeV pp</text><path d="M8.42 0.00L6.26 0.00L6.26 -11.86L2.26 -11.86L2.26 -13.55C4.84 -13.67 6.48 -14.30 7.18 -16.63L8.42 -16.63Z" fill="#000"/></g>
<g transform="translate(717.60,29.20) scale(1,1.055)"><text font-size="24">tt</text></g>
<line x1="724.9" y1="9.6" x2="731.2" y2="9.6" stroke="#000" stroke-width="1.7"/>
<g transform="translate(292.50,87.20) scale(1,1.04)"><text font-size="24.3">ttbar.th</text></g>
<g transform="translate(365.30,87.20) scale(1,1.04)"><text font-size="23.7">η</text></g>
<g transform="translate(378.20,87.20) scale(1,1.04)"><text font-size="23.7">Star</text></g>
<g transform="translate(428.10,87.20) scale(1,1.03)"><text font-size="19.9">(cms202<tspan class="h">1</tspan>-lh)</text><path d="M83.70 0.00L81.92 0.00L81.92 -10.12L78.63 -10.12L78.63 -11.57C80.76 -11.67 82.11 -12.21 82.68 -14.20L83.70 -14.20Z" fill="#000"/></g>
<g transform="translate(416.00,603.50)"><text font-size="15.8" text-anchor="middle" style="fill:#999">(CMS_202<tspan class="h">1</tspan>_I<tspan class="h">1</tspan>90<tspan class="h">1</tspan>295)</text><path d="M-0.75 0.00L-2.15 0.00L-2.15 -8.05L-4.77 -8.05L-4.77 -9.21C-3.08 -9.29 -2.01 -9.72 -1.55 -11.30L-0.75 -11.30Z" fill="#999"/><path d="M21.24 0.00L19.83 0.00L19.83 -8.05L17.22 -8.05L17.22 -9.21C18.91 -9.29 19.98 -9.72 20.43 -11.30L21.24 -11.30Z" fill="#999"/><path d="M47.61 0.00L46.21 0.00L46.21 -8.05L43.59 -8.05L43.59 -9.21C45.28 -9.29 46.35 -9.72 46.81 -11.30L47.61 -11.30Z" fill="#999"/></g>
<g transform="translate(82.60,110.90) scale(1,1.045)"><text font-size="22" text-anchor="end">0.0025</text></g>
<g transform="translate(82.60,217.00) scale(1,1.045)"><text font-size="22" text-anchor="end">0.002</text></g>
<g transform="translate(82.60,325.00) scale(1,1.045)"><text font-size="22" text-anchor="end">0.00<tspan class="h">1</tspan>5</text><path d="M-16.70 0.00L-18.66 0.00L-18.66 -10.84L-22.30 -10.84L-22.30 -12.39C-19.95 -12.49 -18.46 -13.07 -17.82 -15.20L-16.70 -15.20Z" fill="#000"/></g>
<g transform="translate(86.20,430.90) scale(1,1.045)"><text font-size="22" text-anchor="end">0.00<tspan class="h">1</tspan></text><path d="M-4.05 0.00L-6.01 0.00L-6.01 -10.84L-9.65 -10.84L-9.65 -12.39C-7.30 -12.49 -5.81 -13.07 -5.17 -15.20L-4.05 -15.20Z" fill="#000"/></g>
<g transform="translate(82.60,537.30) scale(1,1.045)"><text font-size="22" text-anchor="end">0.0005</text></g>
<clipPath id="c0"><rect x="0" y="0" width="90" height="635.8"/></clipPath>
<g clip-path="url(#c0)"><g transform="translate(82.60,645.10) scale(1,1.045)"><text font-size="22" text-anchor="end">0</text></g></g>
<g transform="translate(76.90,682.90) scale(1,1.045)"><text font-size="23.1" text-anchor="end">2</text></g>
<g transform="translate(748.00,682.90) scale(1,1.045)"><text font-size="23.1">2</text></g>
<g transform="translate(78.25,804.80) scale(1,1.045)"><text font-size="23.1" text-anchor="end"><tspan class="h">1</tspan></text><path d="M-4.24 0.00L-6.29 0.00L-6.29 -11.38L-10.12 -11.38L-10.12 -13.01C-7.65 -13.12 -6.08 -13.73 -5.41 -15.96L-4.24 -15.96Z" fill="#000"/></g>
<g transform="translate(747.30,804.80) scale(1,1.045)"><text font-size="23.1"><tspan class="h">1</tspan></text><path d="M8.61 0.00L6.55 0.00L6.55 -11.38L2.73 -11.38L2.73 -13.01C5.20 -13.12 6.76 -13.73 7.43 -15.96L8.61 -15.96Z" fill="#000"/></g>
<g transform="translate(76.90,924.90) scale(1,1.045)"><text font-size="23.1" text-anchor="end">0.5</text></g>
<g transform="translate(748.00,924.90) scale(1,1.045)"><text font-size="23.1">0.5</text></g>
<g transform="translate(104.20,977.90) scale(1,1.07)"><text font-size="23.1" text-anchor="middle"><tspan style="fill:none">−</tspan><tspan class="h">1</tspan></text><path d="M8.94 0.00L6.88 0.00L6.88 -11.11L3.05 -11.11L3.05 -12.70C5.52 -12.81 7.09 -13.40 7.76 -15.59L8.94 -15.59Z" fill="#000"/></g>
<g transform="translate(260.00,977.90) scale(1,1.07)"><text font-size="23.1" text-anchor="middle"><tspan style="fill:none">−</tspan>0.5</text></g>
<g transform="translate(417.30,977.90) scale(1,1.07)"><text font-size="23.1" text-anchor="middle">0</text></g>
<g transform="translate(573.00,977.90) scale(1,1.07)"><text font-size="23.1" text-anchor="middle">0.5</text></g>
<g transform="translate(732.10,977.90) scale(1,1.07)"><text font-size="23.1" text-anchor="middle"><tspan class="h">1</tspan></text><path d="M2.19 0.00L0.13 0.00L0.13 -11.11L-3.70 -11.11L-3.70 -12.70C-1.23 -12.81 0.34 -13.40 1.01 -15.59L2.19 -15.59Z" fill="#000"/></g>
<path d="M92.0 971.8H104.1M236.9 971.8H249.1" stroke="#000" stroke-width="1.45" fill="none"/>
<g transform="translate(36.3,793.2) rotate(-90)"><text font-size="18" text-anchor="middle">Ratio to CMS</text></g>
<g transform="translate(759.6,36.0) rotate(-90)"><text font-size="18.95" text-anchor="end" style="fill:#808080">Rivet 4.<tspan class="h">1</tspan>.0, ≥ <tspan class="h">1</tspan>00k events</text><path d="M-147.61 0.00L-149.30 0.00L-149.30 -9.66L-152.44 -9.66L-152.44 -11.04C-150.41 -11.14 -149.13 -11.65 -148.58 -13.55L-147.61 -13.55Z" fill="#808080"/><path d="M-95.08 0.00L-96.77 0.00L-96.77 -9.66L-99.90 -9.66L-99.90 -11.04C-97.88 -11.14 -96.59 -11.65 -96.04 -13.55L-95.08 -13.55Z" fill="#808080"/></g>
<g transform="translate(761.8,629.4) rotate(-90)"><text font-size="18.92" style="fill:#808080">mcplots.cern.ch [arXiv:<tspan class="h">1</tspan>306.3436]</text><path d="M198.28 0.00L196.60 0.00L196.60 -9.65L193.47 -9.65L193.47 -11.03C195.49 -11.12 196.77 -11.63 197.32 -13.53L198.28 -13.53Z" fill="#808080"/></g>
</g>
</svg></body></html>
